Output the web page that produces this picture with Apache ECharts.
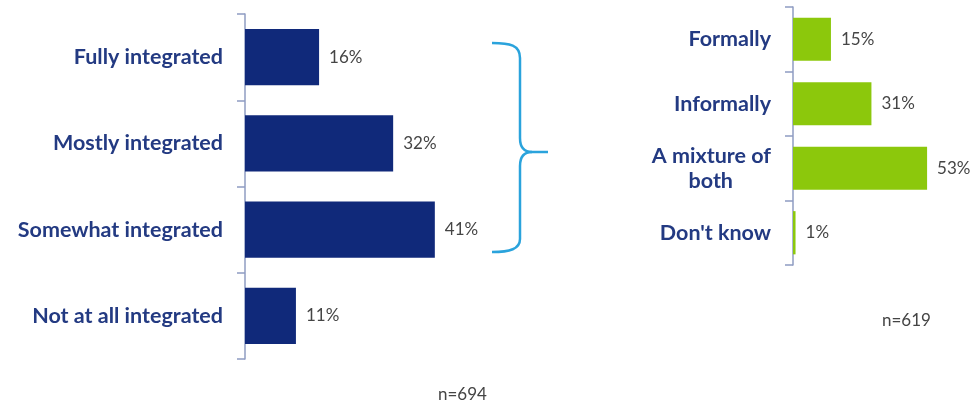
<!DOCTYPE html>
<html>
<head>
<meta charset="utf-8">
<script src="https://cdn.jsdelivr.net/npm/echarts@6/dist/echarts.min.js"></script>
<style>
html,body{margin:0;padding:0;background:#fff;}
#c{width:973px;height:404px;}
</style>
</head>
<body>
<div id="c"></div>
<script>
const leftCats = ['Fully integrated', 'Mostly integrated', 'Somewhat integrated', 'Not at all integrated'];
const leftVals = [16, 32, 41, 11];
const rightCats = ['Formally', 'Informally', 'A mixture of\nboth', "Don't know"];
const rightVals = [15, 31, 53, 1];
const leftNote = 'n=694';
const rightNote = 'n=619';

const FONT = 'Lato';
const navy = '#10297a';
const labelNavy = '#233a82';
const green = '#8cc80c';
const axisCol = '#8f9cc2';
const braceCol = '#2aa3dc';
const LBL = 21.5;

const chart = echarts.init(document.getElementById('c'), null, {renderer: 'canvas'});

function yAxisCfg(gridIndex, cats) {
  return {
    type: 'category', gridIndex: gridIndex, data: cats, inverse: true,
    axisLine: {show: true, lineStyle: {color: axisCol, width: 1.5}},
    axisTick: {show: true, length: 8, lineStyle: {color: axisCol, width: 1.5}},
    axisLabel: {
      margin: 22, color: labelNavy, fontWeight: 'bold', fontSize: LBL, fontFamily: FONT,
      lineHeight: 25,
      formatter: function (v) {
        if (v.indexOf('\n') >= 0) {
          const p = v.split('\n');
          return '{a|' + p[0] + '}\n{b|' + p[1] + '}';
        }
        return v;
      },
      rich: {
        a: {color: labelNavy, fontWeight: 'bold', fontSize: LBL, fontFamily: FONT, lineHeight: 25},
        b: {color: labelNavy, fontWeight: 'bold', fontSize: LBL, fontFamily: FONT, lineHeight: 25, padding: [0, 38, 0, 0]}
      }
    }
  };
}

function barLabel() {
  return {show: true, position: 'right', distance: 10, formatter: '{c}%', color: '#454545', fontSize: 17, fontFamily: FONT};
}

const braceStyle = {fill: null, stroke: braceCol, lineWidth: 2.5};
function bz(x1, y1, c1x, c1y, c2x, c2y, x2, y2) {
  return {type: 'bezierCurve', shape: {x1: x1, y1: y1, cpx1: c1x, cpy1: c1y, cpx2: c2x, cpy2: c2y, x2: x2, y2: y2}, style: braceStyle};
}
function ln(x1, y1, x2, y2) {
  return {type: 'line', shape: {x1: x1, y1: y1, x2: x2, y2: y2}, style: braceStyle};
}

chart.setOption({
  animation: false,
  backgroundColor: '#fff',
  grid: [
    {left: 245, top: 14, width: 231.5, height: 345},
    {left: 793, top: 7, width: 151.8, height: 258}
  ],
  xAxis: [
    {type: 'value', gridIndex: 0, min: 0, max: 50, show: false},
    {type: 'value', gridIndex: 1, min: 0, max: 60, show: false}
  ],
  yAxis: [yAxisCfg(0, leftCats), yAxisCfg(1, rightCats)],
  series: [
    {type: 'bar', xAxisIndex: 0, yAxisIndex: 0, data: leftVals, barCategoryGap: '35%',
     itemStyle: {color: navy}, label: barLabel()},
    {type: 'bar', xAxisIndex: 1, yAxisIndex: 1, data: rightVals, barCategoryGap: '33%',
     itemStyle: {color: green}, label: barLabel()}
  ],
  graphic: [
    bz(492, 43, 510, 43, 520, 45, 520, 58),
    ln(520, 58, 520, 138),
    bz(520, 138, 520, 147, 524, 152, 532, 152),
    ln(532, 152, 548, 152),
    bz(532, 152, 524, 152, 520, 157, 520, 166),
    ln(520, 166, 520, 239),
    bz(520, 239, 520, 249, 510, 252, 492, 252),
    {type: 'text', left: 438, top: 386, style: {text: leftNote, fill: '#444', fontSize: 17, fontFamily: FONT}},
    {type: 'text', left: 882, top: 312, style: {text: rightNote, fill: '#444', fontSize: 17, fontFamily: FONT}}
  ]
});
</script>
</body>
</html>
